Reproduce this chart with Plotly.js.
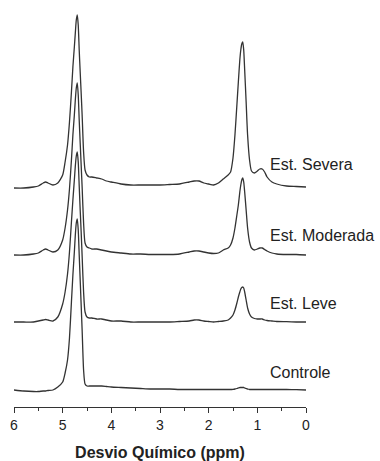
<!DOCTYPE html>
<html>
<head>
<meta charset="utf-8">
<script src="https://cdn.plot.ly/plotly-3.0.1.min.js"></script>
<style>html,body{margin:0;padding:0;background:#fff;}#chart{width:380px;height:461px;}</style>
</head>
<body>
<div id="chart"></div>
<script>
// Chemical shift grid (ppm)
const ppm = [6.0, 5.8, 5.6, 5.5, 5.4, 5.35, 5.3, 5.2,
  5.1, 5.0, 4.95, 4.9, 4.86, 4.82, 4.79, 4.76, 4.74, 4.72, 4.70, 4.68, 4.66, 4.64, 4.62, 4.60, 4.57, 4.54, 4.50, 4.45, 4.40,
  4.30, 4.20, 4.10, 4.0,
  3.8, 3.6, 3.4, 3.2, 3.0, 2.8, 2.6, 2.4,
  2.3, 2.2, 2.1, 2.0, 1.9, 1.8, 1.7,
  1.6, 1.55, 1.5, 1.46, 1.42, 1.39, 1.36, 1.34, 1.32,
  1.30, 1.28, 1.26, 1.23, 1.20, 1.16, 1.12, 1.06, 1.0,
  0.95, 0.9, 0.85, 0.8, 0.7, 0.6, 0.4, 0.2, 0.0];

// Intensities (arbitrary units, relative to each spectrum's baseline)
const severa = [-1, -1, 0, 1, 4, 5, 4, 2,
  4, 12, 25, 42, 65, 95, 120, 140, 154, 167, 172, 162, 137, 115, 94, 72, 35, 17, 12, 10, 10,
  9, 8, 6, 5,
  3, 2, 2, 2, 2, 2.5, 3, 5,
  6, 6, 4, 3, 2, 4, 8,
  12, 15, 29, 52, 82, 105, 127, 137, 143,
  145, 137, 117, 85, 52, 27, 16, 14, 16,
  18, 18, 15, 10, 5, 3, 1, 0.5, 0];

const moderada = [0, 0, 1, 2, 5, 6, 5, 3,
  5, 15, 27, 45, 66, 95, 120, 140, 155, 167, 172, 160, 135, 112, 90, 68, 32, 12, 8, 7, 6,
  6, 5, 4, 3,
  2, 1, 1, 0.5, 0.5, 0.5, 1, 3,
  4, 4, 3, 2, 1.5, 2, 5,
  7, 10, 17, 27, 40, 50, 63, 70, 75,
  77, 73, 63, 45, 27, 13, 7, 5, 6,
  7, 7, 5.5, 4, 2, 1, 0.5, 0.5, 0];

const leve = [0, 0, 0, 1, 2, 2.5, 2, 1,
  5, 18, 30, 48, 70, 100, 122, 142, 156, 166, 170, 160, 136, 112, 90, 66, 30, 10, 5, 4, 4,
  3, 3, 2, 1,
  1, 0, 0, 0, 0, 0, 0.5, 1,
  2, 2, 1, 0.5, 0, 0.5, 1,
  2, 4, 7, 12, 19, 25, 30, 33, 34.5,
  35, 34, 30, 22, 14, 8, 5, 3.5, 3,
  3, 3, 2, 1.5, 1, 0.5, 0.3, 0, 0];

const controle = [0, -1, -1.5, -1.5, -1, -1, -0.5, 0,
  3, 8, 17, 30, 52, 88, 115, 138, 155, 167, 171, 160, 135, 110, 85, 60, 20, 6, 4, 4, 4,
  4, 4, 3.5, 3,
  2.5, 2, 1.5, 1, 1, 1, 0.5, 0.5,
  0.5, 0.5, 0.5, 0.5, 0.5, 0.5, 0.5,
  0.5, 0.5, 0.7, 1, 1.5, 2, 2.5, 2.5, 2.5,
  2.5, 2.5, 2, 1.5, 1, 0.5, 0.5, 0.5, 0.5,
  0.5, 0.5, 0.5, 0.5, 0.5, 0.5, 0.5, 0.3, 0];

const labels = ["Est. Severa", "Est. Moderada", "Est. Leve", "Controle"];
const xTickVals = [6, 5, 4, 3, 2, 1, 0];

// Stacking offsets (layout)
const offsets = [220, 152, 85, 17];
const labelY = [243, 172, 104, 35];

const series = [severa, moderada, leve, controle];
const lineColor = '#333';
const FONT = 'Liberation Sans, Arial, sans-serif';

const traces = series.map((s, i) => ({
  x: ppm,
  y: s.map(v => v + offsets[i]),
  type: 'scatter',
  mode: 'lines',
  line: {color: lineColor, width: 1.3, shape: 'spline', smoothing: 0.6},
  hoverinfo: 'skip',
  showlegend: false
}));

const annotations = labels.map((t, i) => ({
  text: t, xref: 'x', yref: 'y', x: 0.78, y: labelY[i],
  xanchor: 'left', yanchor: 'middle', showarrow: false,
  font: {family: FONT, size: 16, color: '#222'}
}));

const layout = {
  width: 380, height: 461,
  margin: {l: 14, r: 74, t: 10, b: 54},
  paper_bgcolor: '#fff', plot_bgcolor: '#fff',
  showlegend: false,
  xaxis: {
    range: [6, 0], showgrid: false, zeroline: false,
    showline: true, linecolor: '#333', linewidth: 1,
    ticks: 'outside', ticklen: 5, tickwidth: 1, tickcolor: '#333',
    tickmode: 'array', tickvals: xTickVals, ticktext: xTickVals.map(String),
    minor: {dtick: 0.5, tick0: 0, ticks: 'outside', ticklen: 3, tickwidth: 1, tickcolor: '#333', showgrid: false},
    tickfont: {family: FONT, size: 14, color: '#222'},
    title: {text: '<b>Desvio Químico (ppm)</b>', font: {family: FONT, size: 16, color: '#222'}, standoff: 15},
    fixedrange: true
  },
  yaxis: {range: [0, 397], visible: false, fixedrange: true},
  annotations: annotations
};

Plotly.newPlot('chart', traces, layout, {displayModeBar: false, staticPlot: true});
</script>
</body>
</html>
